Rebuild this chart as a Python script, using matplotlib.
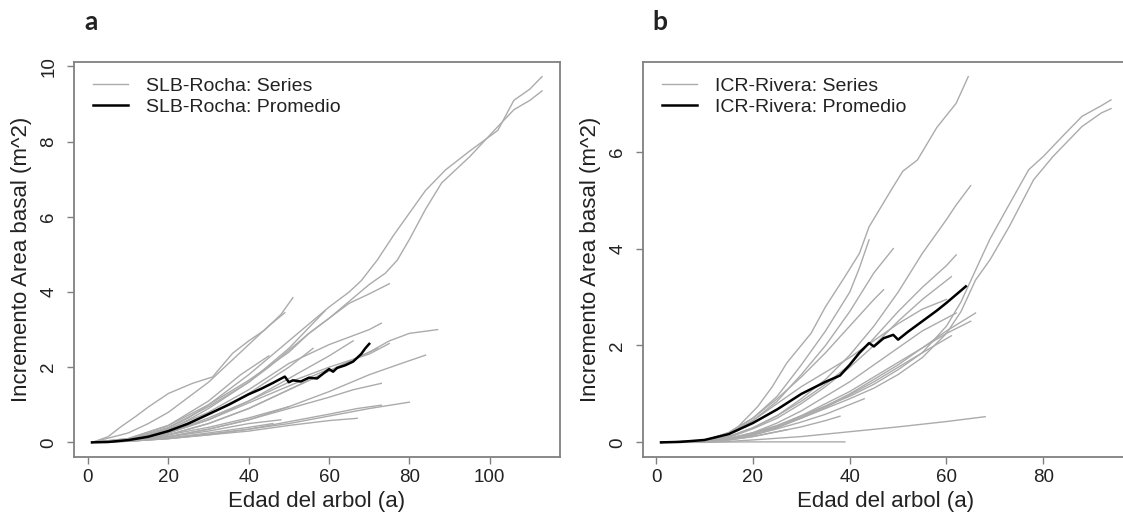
"""
Incremento de area basal acumulada por edad del arbol: SLB-Rocha (a) e ICR-Rivera (b).
"""

import matplotlib
matplotlib.use("Agg")
import matplotlib.pyplot as plt

plt.rcParams["font.family"] = ["Liberation Sans", "DejaVu Sans"]

# ---- datos panel a: SLB-Rocha (edad, incremento) ----
SLB_SERIES = [
    ([1, 8, 15, 20, 25, 30, 35, 40, 45, 50, 55, 60, 65, 68, 72, 76, 80, 84, 89, 95, 102, 106, 110, 113],
     [0, 0.05, 0.2, 0.38, 0.65, 1.0, 1.4, 1.8, 2.25, 2.7, 3.15, 3.6, 4.0, 4.3, 4.85, 5.5, 6.1, 6.7, 7.25, 7.75, 8.3, 9.1, 9.4, 9.73]),
    ([1, 8, 15, 20, 25, 30, 35, 40, 45, 50, 55, 60, 65, 70, 74, 77, 80, 84, 88, 95, 102, 106, 110, 113],
     [0, 0.04, 0.18, 0.33, 0.6, 0.9, 1.25, 1.6, 2.0, 2.45, 2.9, 3.3, 3.75, 4.2, 4.5, 4.85, 5.4, 6.2, 6.9, 7.6, 8.4, 8.85, 9.1, 9.35]),
    ([1, 5, 8, 12, 15, 20, 26, 31, 36, 40, 44, 48, 51],
     [0, 0.15, 0.4, 0.7, 0.94, 1.3, 1.57, 1.74, 2.37, 2.7, 2.99, 3.4, 3.85]),
    ([1, 10, 15, 20, 25, 30, 35, 40, 45, 49],
     [0, 0.25, 0.5, 0.8, 1.2, 1.6, 2.1, 2.6, 3.1, 3.45]),
    ([1, 10, 20, 30, 40, 50, 55, 60, 65, 70, 75],
     [0, 0.1, 0.45, 1.0, 1.65, 2.4, 2.9, 3.3, 3.7, 3.95, 4.22]),
    ([1, 10, 20, 30, 40, 50, 60, 65, 70, 73],
     [0, 0.08, 0.35, 0.8, 1.4, 2.1, 2.6, 2.8, 3.0, 3.17]),
    ([1, 10, 20, 30, 40, 50, 60, 70, 75, 80, 87],
     [0, 0.05, 0.2, 0.5, 0.9, 1.4, 1.9, 2.4, 2.7, 2.9, 3.0]),
    ([1, 10, 20, 30, 40, 50, 60, 70, 78, 84],
     [0, 0.04, 0.15, 0.35, 0.6, 0.95, 1.35, 1.8, 2.1, 2.32]),
    ([1, 10, 20, 30, 40, 50, 60, 66, 72],
     [0, 0.05, 0.2, 0.5, 0.9, 1.4, 1.9, 2.2, 2.5]),
    ([1, 10, 20, 30, 40, 50, 60, 66, 73],
     [0, 0.04, 0.15, 0.35, 0.6, 0.9, 1.2, 1.4, 1.57]),
    ([1, 10, 20, 30, 40, 50, 60, 70, 80],
     [0, 0.03, 0.1, 0.2, 0.35, 0.5, 0.7, 0.9, 1.07]),
    ([1, 10, 20, 30, 40, 50, 60, 67, 73],
     [0, 0.03, 0.1, 0.22, 0.35, 0.55, 0.75, 0.9, 0.99]),
    ([1, 10, 20, 30, 40, 50, 60, 67],
     [0, 0.03, 0.1, 0.2, 0.3, 0.45, 0.58, 0.64]),
    ([1, 10, 20, 30, 40, 45, 50],
     [0, 0.05, 0.2, 0.4, 0.65, 0.8, 0.95]),
    ([1, 10, 20, 30, 40, 48],
     [0, 0.04, 0.15, 0.3, 0.5, 0.6]),
    ([1, 10, 20, 30, 40, 46],
     [0, 0.03, 0.12, 0.25, 0.4, 0.5]),
    ([1, 10, 20, 30, 40, 50, 60],
     [0, 0.05, 0.25, 0.6, 1.05, 1.5, 1.95]),
    ([1, 10, 20, 30, 40, 50, 59],
     [0, 0.08, 0.4, 0.95, 1.6, 2.5, 3.5]),
    ([1, 10, 20, 30, 40, 50, 56],
     [0, 0.06, 0.3, 0.75, 1.3, 2.0, 2.5]),
    ([1, 10, 20, 30, 38, 45],
     [0, 0.1, 0.45, 1.1, 1.8, 2.3]),
    ([1, 10, 20, 30, 40, 50, 60, 66],
     [0, 0.05, 0.25, 0.65, 1.1, 1.7, 2.3, 2.7]),
    ([1, 10, 20, 30, 40, 50, 60, 70, 75],
     [0, 0.05, 0.25, 0.6, 1.1, 1.6, 2.0, 2.35, 2.63]),
]
SLB_MEAN_AGE = [1, 5, 10, 15, 20, 25, 30, 35, 40, 43, 46, 49, 50, 51, 53, 55, 57, 60, 61, 62, 64, 66, 68, 69, 70]
SLB_MEAN_VAL = [0, 0.01, 0.06, 0.15, 0.3, 0.5, 0.75, 1.0, 1.28, 1.42, 1.58, 1.75, 1.6, 1.65, 1.62, 1.72, 1.7,
                1.95, 1.88, 1.98, 2.05, 2.15, 2.35, 2.5, 2.62]

# ---- datos panel b: ICR-Rivera (edad, incremento) ----
ICR_SERIES = [
    ([1, 10, 15, 20, 25, 30, 35, 40, 45, 50, 55, 60, 63, 67, 69, 72, 77, 80, 84, 88, 92, 94],
     [0, 0.02, 0.08, 0.2, 0.35, 0.55, 0.75, 0.95, 1.2, 1.5, 1.85, 2.4, 2.9, 3.77, 4.2, 4.74, 5.63, 5.9, 6.32, 6.73, 6.95, 7.07]),
    ([1, 10, 15, 20, 25, 30, 35, 40, 45, 50, 55, 60, 63, 66, 69, 73, 78, 82, 88, 92, 94],
     [0, 0.02, 0.07, 0.18, 0.32, 0.5, 0.7, 0.9, 1.12, 1.4, 1.75, 2.25, 2.7, 3.35, 3.77, 4.46, 5.42, 5.9, 6.52, 6.8, 6.89]),
    ([1, 10, 15, 17, 21, 24, 27, 32, 35, 39, 42, 44, 49, 51, 54, 58, 62, 64.5],
     [0, 0.03, 0.2, 0.33, 0.74, 1.15, 1.64, 2.25, 2.8, 3.42, 3.9, 4.45, 5.28, 5.6, 5.83, 6.5, 7.0, 7.55]),
    ([1, 10, 15, 20, 25, 30, 35, 40, 42, 44],
     [0, 0.04, 0.2, 0.5, 0.95, 1.6, 2.3, 3.1, 3.6, 4.18]),
    ([1, 10, 15, 20, 25, 30, 35, 40, 45, 49],
     [0, 0.04, 0.18, 0.45, 0.85, 1.4, 2.0, 2.7, 3.5, 4.0]),
    ([1, 10, 15, 20, 25, 30, 35, 40, 45, 47],
     [0, 0.04, 0.2, 0.5, 0.9, 1.35, 1.85, 2.4, 2.95, 3.15]),
    ([1, 10, 15, 20, 25, 30, 35, 40, 45, 50, 55, 60, 62, 65],
     [0, 0.03, 0.12, 0.3, 0.55, 0.9, 1.3, 1.8, 2.4, 3.1, 3.9, 4.6, 4.9, 5.3]),
    ([1, 10, 15, 20, 25, 30, 35, 40, 45, 50, 55, 60, 62],
     [0, 0.03, 0.12, 0.3, 0.55, 0.85, 1.2, 1.6, 2.15, 2.7, 3.2, 3.65, 3.87]),
    ([1, 10, 15, 20, 25, 30, 35, 40, 45, 50, 55, 61],
     [0, 0.03, 0.1, 0.28, 0.5, 0.8, 1.15, 1.55, 2.0, 2.5, 2.95, 3.42]),
    ([1, 10, 15, 20, 25, 30, 35, 40, 45, 50, 55, 62],
     [0, 0.02, 0.08, 0.2, 0.4, 0.65, 0.95, 1.25, 1.6, 1.95, 2.3, 2.67]),
    ([1, 10, 15, 20, 25, 30, 35, 40, 45, 50, 55, 60, 66],
     [0, 0.02, 0.07, 0.17, 0.32, 0.52, 0.75, 1.0, 1.3, 1.6, 1.95, 2.3, 2.67]),
    ([1, 10, 15, 20, 25, 30, 35, 40, 45, 50, 55, 61],
     [0, 0.02, 0.06, 0.15, 0.3, 0.5, 0.72, 0.98, 1.25, 1.55, 1.85, 2.2]),
    ([1, 10, 15, 20, 25, 30, 35, 40, 45, 50, 55, 60, 65],
     [0, 0.02, 0.07, 0.17, 0.33, 0.55, 0.8, 1.05, 1.35, 1.65, 1.95, 2.25, 2.5]),
    ([1, 10, 15, 20, 25, 30, 35, 40, 43],
     [0, 0.02, 0.06, 0.15, 0.28, 0.42, 0.58, 0.78, 0.9]),
    ([1, 10, 15, 20, 25, 30, 35, 38],
     [0, 0.02, 0.05, 0.12, 0.22, 0.32, 0.45, 0.54]),
    ([1, 10, 15, 20, 24, 27],
     [0, 0.02, 0.05, 0.12, 0.2, 0.26]),
    ([1, 20, 39],
     [0, 0.01, 0.01]),
    ([1, 10, 15, 20, 30, 40, 50, 60, 68],
     [0, 0.0, 0.02, 0.05, 0.12, 0.22, 0.32, 0.43, 0.53]),
    ([1, 10, 15, 20, 25, 30, 35, 40, 45, 50, 55, 60],
     [0, 0.04, 0.18, 0.45, 0.8, 1.15, 1.45, 1.75, 2.1, 2.45, 2.75, 2.95]),
]
ICR_MEAN_AGE = [1, 5, 10, 15, 20, 25, 30, 35, 38, 40, 42, 44, 45, 47, 49, 50, 52, 55, 58, 60, 62, 64]
ICR_MEAN_VAL = [0, 0.01, 0.05, 0.17, 0.4, 0.68, 1.0, 1.25, 1.38, 1.6, 1.85, 2.05, 1.98, 2.15, 2.22, 2.12, 2.28,
                2.5, 2.72, 2.88, 3.05, 3.22]

PANELS = [
    ("a", "SLB-Rocha", SLB_SERIES, SLB_MEAN_AGE, SLB_MEAN_VAL, [0, 20, 40, 60, 80, 100], [0, 2, 4, 6, 8, 10]),
    ("b", "ICR-Rivera", ICR_SERIES, ICR_MEAN_AGE, ICR_MEAN_VAL, [0, 20, 40, 60, 80], [0, 2, 4, 6]),
]

# colores estilo R
COLORS = {"series": "#ababab", "mean": "#000000", "axis": "#808080", "text": "#222222"}

W, H = 1123, 514
fig = plt.figure(figsize=(W / 100, H / 100), dpi=100)

# posiciones de los ejes en pixeles (izquierda, abajo, ancho, alto)
boxes = [(74, 57, 486, 395), (643, 57, 486, 395)]

for (letter, site, series, m_age, m_val, xticks, yticks), (l, b, w, h) in zip(PANELS, boxes):
    ax = fig.add_axes([l / W, b / H, w / W, h / H])

    for i, (age, val) in enumerate(series):
        ax.plot(age, val, color=COLORS["series"], linewidth=1.0,
                label=f"{site}: Series" if i == 0 else None)
    ax.plot(m_age, m_val, color=COLORS["mean"], linewidth=1.8, label=f"{site}: Promedio")

    # limites tipo R (4% extra)
    xs = [a for s in series for a in s[0]] + list(m_age)
    ys = [v for s in series for v in s[1]] + list(m_val)
    xr = max(xs) - min(xs)
    yr = max(ys) - min(ys)
    ax.set_xlim(min(xs) - 0.04 * xr, max(xs) + 0.04 * xr)
    ax.set_ylim(min(ys) - 0.04 * yr, max(ys) + 0.04 * yr)

    ax.set_xticks(xticks)
    ax.set_yticks(yticks)
    ax.tick_params(direction="out", length=5, width=1, color=COLORS["axis"],
                   labelsize=13.5, labelcolor=COLORS["text"])
    ax.tick_params(axis="x", pad=4)
    ax.tick_params(axis="y", pad=7, labelrotation=90)
    for lab in ax.get_yticklabels():
        lab.set_va("center")
    for sp in ax.spines.values():
        sp.set_color(COLORS["axis"])
        sp.set_linewidth(1.3)

    ax.set_xlabel("Edad del arbol (a)", fontsize=16, color=COLORS["text"], labelpad=3)
    ax.set_ylabel("Incremento Area basal (m^2)", fontsize=16, color=COLORS["text"], labelpad=6)

    ax.legend(loc="upper left", bbox_to_anchor=(0.040, 0.962), frameon=False,
              fontsize=14, handlelength=1.8, handletextpad=0.9, labelspacing=0.2,
              borderaxespad=0, borderpad=0, labelcolor=COLORS["text"])

    fig.text((l + 17) / W, 1 - 22 / H, letter, fontsize=19, fontweight="bold",
             family=["Lato", "DejaVu Sans"], ha="center", va="center", color=COLORS["text"])

fig.savefig("out.png", dpi=100)
